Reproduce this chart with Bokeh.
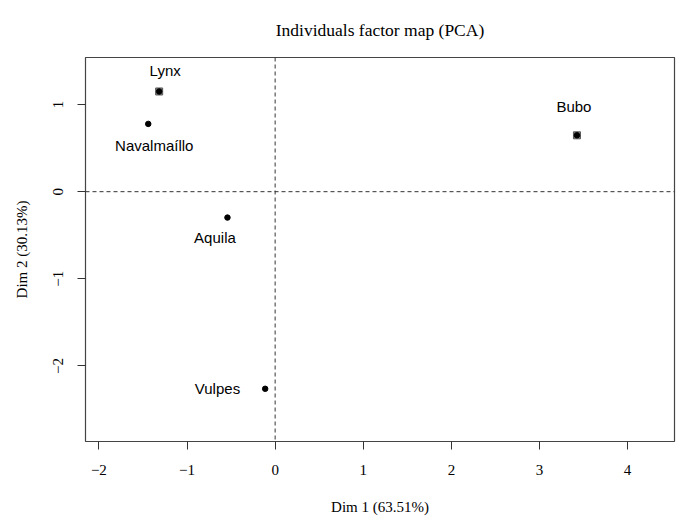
from bokeh.plotting import figure
from bokeh.models import Range1d, FixedTicker, Span, ColumnDataSource
from bokeh.core.properties import value
from bokeh.embed import file_html
from bokeh.resources import INLINE

# ---- data ----
names = ["Lynx", "Navalmaíllo", "Aquila", "Vulpes", "Bubo"]
dim1 = [-1.316, -1.440, -0.541, -0.113, 3.425]
dim2 = [1.150, 0.778, -0.297, -2.262, 0.647]
boxed = ["Lynx", "Bubo"]
x_ticks = [-2, -1, 0, 1, 2, 3, 4]
y_ticks = [-2, -1, 0, 1]
x_lim = (-2.152, 4.532)
y_lim = (-2.867, 1.540)
title_text = "Individuals factor map (PCA)"

# label placement (screen px offsets; style only)
label_dx = [6, 6, -12.5, -47.7, -3]
label_dy = [-21, 22, 20, 0, -29]

SERIF = "Liberation Serif"
SANS = "Liberation Sans"

p = figure(width=678, height=517, output_backend="svg", toolbar_location=None,
           x_range=Range1d(*x_lim), y_range=Range1d(*y_lim),
           min_border_left=85, min_border_right=4, min_border_top=56, min_border_bottom=73,
           title=title_text)
p.background_fill_color = "white"
p.border_fill_color = "white"
p.outline_line_color = "#444444"
p.outline_line_width = 1.2
p.grid.visible = False

p.title.align = "center"
p.title.text_font = SERIF
p.title.text_font_size = "17.5px"
p.title.text_font_style = "normal"
p.title.text_color = "black"
p.title.standoff = 35

def minus(v):
    return str(v).replace("-", "\u2212")

for ax, ticks in ((p.xaxis[0], x_ticks), (p.yaxis[0], y_ticks)):
    ax.ticker = FixedTicker(ticks=ticks)
    ax.major_label_overrides = {t: minus(t) for t in ticks}
    ax.axis_line_color = None
    ax.major_tick_line_color = "#333333"
    ax.major_tick_out = 8
    ax.major_tick_in = 0
    ax.minor_tick_line_color = None
    ax.major_label_text_font = SERIF
    ax.major_label_text_font_size = "15px"
    ax.major_label_text_color = "black"
    ax.axis_label_text_font = SERIF
    ax.axis_label_text_font_size = "15px"
    ax.axis_label_text_font_style = "normal"
    ax.axis_label_text_color = "black"

p.xaxis.major_label_standoff = 15
p.xaxis.axis_label_standoff = 21
p.yaxis.major_label_standoff = 14
p.yaxis.axis_label_standoff = 21

p.xaxis.axis_label = "Dim 1 (63.51%)"
p.yaxis.axis_label = "Dim 2 (30.13%)"
p.yaxis.major_label_orientation = "vertical"

p.add_layout(Span(location=0, dimension="height", line_dash="4 3", line_color="#333333", line_width=1))
p.add_layout(Span(location=0, dimension="width", line_dash="4 3", line_color="#333333", line_width=1))

src = ColumnDataSource(dict(x=dim1, y=dim2, name=names, dx=label_dx, dy=label_dy))
bx = [x for x, n in zip(dim1, names) if n in boxed]
by = [y for y, n in zip(dim2, names) if n in boxed]
p.scatter(bx, by, marker="square", size=7, fill_color="#8a8a8a", line_color="#555555", line_width=1)
p.scatter("x", "y", source=src, marker="circle", size=5.5, fill_color="black", line_color="black")
p.text("x", "y", text="name", source=src, x_offset="dx", y_offset="dy",
       text_font=value(SANS), text_font_size="15px", text_align="center",
       text_baseline="middle", text_color="black")

open("out.html", "w").write(file_html(p, INLINE))
